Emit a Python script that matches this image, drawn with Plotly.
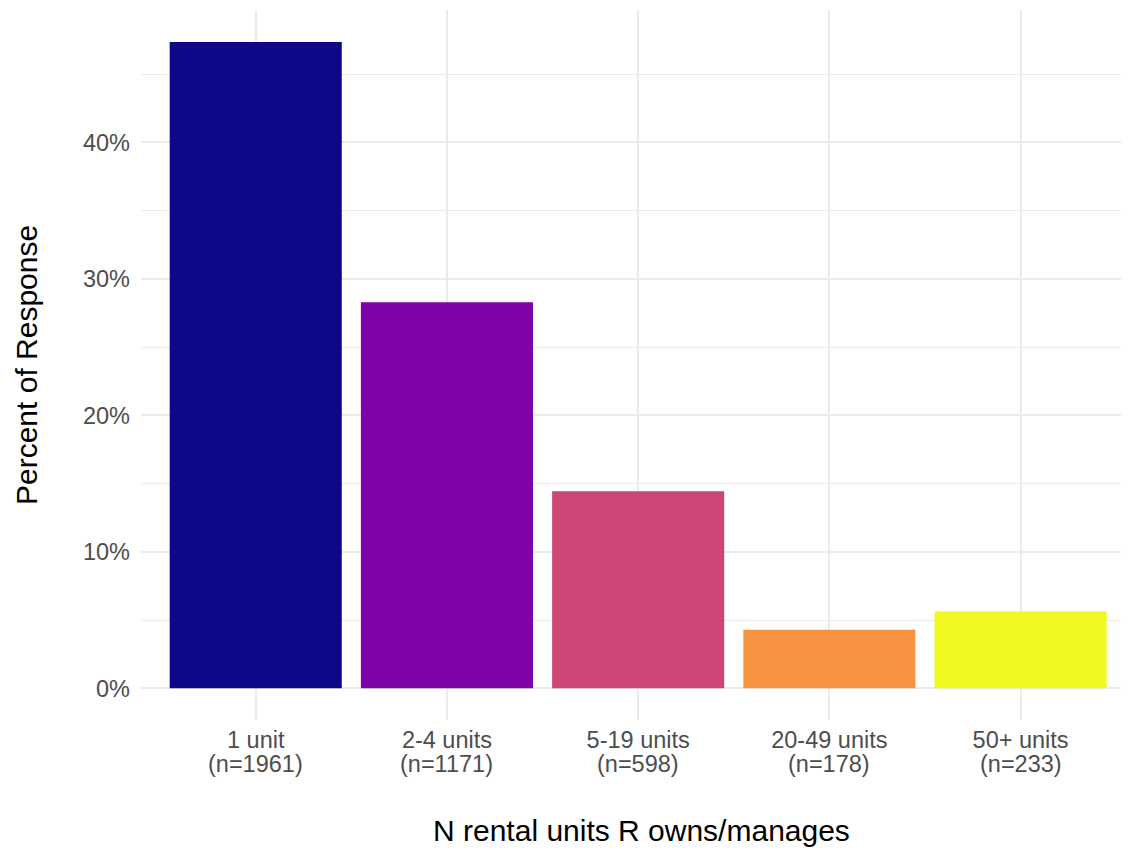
import plotly.graph_objects as go

categories = ["1 unit", "2-4 units", "5-19 units", "20-49 units", "50+ units"]
n_counts = [1961, 1171, 598, 178, 233]
percent = [47.36, 28.28, 14.44, 4.30, 5.63]
colors = ["#0D0887", "#7E03A8", "#CC4678", "#F89441", "#F0F921"]
y_ticks = [0, 10, 20, 30, 40]
y_ticktext = ["0%", "10%", "20%", "30%", "40%"]

positions = list(range(1, len(categories) + 1))
n_labels = [f"(n={n})" for n in n_counts]

W, H = 1121, 842
L, R, T, B = 133, 0, 2, 130

FONT = "Liberation Sans, Arial, sans-serif"
GRID = "#EBEBEB"
TICKC = "#4D4D4D"
TICKSIZE = 23.5

fig = go.Figure()
fig.add_trace(go.Bar(
    x=positions, y=percent, width=0.9,
    marker=dict(color=colors, line=dict(width=0)),
    showlegend=False,
))

annotations = [
    dict(text="N rental units R owns/manages", xref="paper", yref="paper",
         x=0.5065, y=0, yshift=-110, xanchor="center", yanchor="middle",
         showarrow=False, font=dict(family=FONT, size=30, color="black")),
    dict(text="Percent of Response", xref="paper", yref="paper",
         x=0, xshift=-115, y=0.5, xanchor="center", yanchor="middle",
         textangle=-90, showarrow=False,
         font=dict(family=FONT, size=30, color="black")),
]
for p, lab in zip(positions, n_labels):
    annotations.append(dict(
        text=lab, xref="x", yref="paper", x=p, y=0, yshift=-44,
        xanchor="center", yanchor="middle", showarrow=False,
        font=dict(family=FONT, size=TICKSIZE, color=TICKC)))

fig.update_layout(
    width=W, height=H,
    margin=dict(l=L, r=R, t=T, b=B, pad=0),
    paper_bgcolor="white", plot_bgcolor="white",
    font=dict(family=FONT, size=TICKSIZE, color=TICKC),
    xaxis=dict(
        range=[0.4, 5.567], tickmode="array", tickvals=positions, ticktext=categories,
        showgrid=True, gridcolor=GRID, gridwidth=2.4, zeroline=False, showline=False,
        ticks="", ticklabelstandoff=3,
        tickfont=dict(family=FONT, size=TICKSIZE, color=TICKC),
    ),
    yaxis=dict(
        range=[-2.32, 49.7], tickmode="array", tickvals=y_ticks, ticktext=y_ticktext,
        showgrid=True, gridcolor=GRID, gridwidth=2.4, zeroline=False, showline=False,
        ticks="", ticklabelstandoff=10,
        tickfont=dict(family=FONT, size=TICKSIZE, color=TICKC),
        minor=dict(tickmode="array", tickvals=[5, 15, 25, 35, 45], showgrid=True,
                   gridcolor=GRID, gridwidth=1.2, ticks=""),
    ),
    bargap=0.1,
    annotations=annotations,
)

fig.write_html("out.html")
